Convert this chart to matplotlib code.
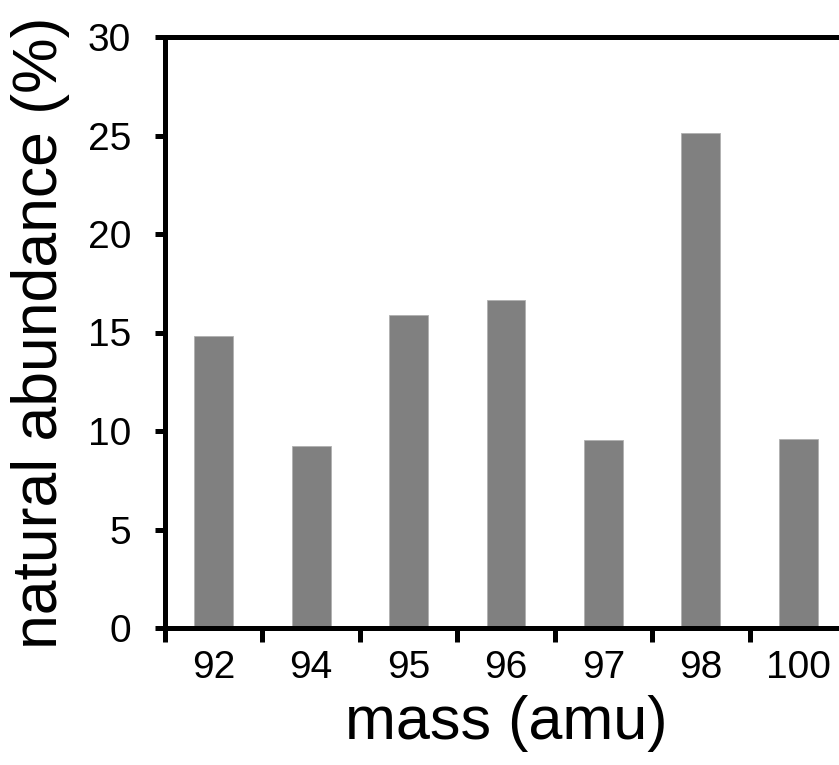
import matplotlib
matplotlib.use("Agg")
import matplotlib.pyplot as plt
import numpy as np

plt.rcParams["font.family"] = ["Liberation Sans", "DejaVu Sans"]

masses = ["92", "94", "95", "96", "97", "98", "100"]
abundance = [14.8, 9.25, 15.9, 16.65, 9.55, 25.15, 9.6]
y_ticks = [0, 5, 10, 15, 20, 25, 30]

W, H = 839, 765
fig = plt.figure(figsize=(W / 100, H / 100), dpi=100)
# axes runs a little past the right edge of the picture, as in the original
ax = fig.add_axes([165 / W, (H - 628) / H, (847 - 165) / W, (628 - 37) / H])

x = np.arange(len(masses)) + 0.5
ax.bar(x, abundance, width=0.4, color="#808080", edgecolor="#b0b0b0", linewidth=0.6, zorder=2)

ax.set_xlim(0, len(masses))
ax.set_ylim(0, 30)
ax.set_yticks(y_ticks)
ax.set_yticklabels([str(t) for t in y_ticks])

# boundary ticks (unlabelled) and centred labels
ax.set_xticks(np.arange(len(masses) + 1))
ax.set_xticklabels([])
ax.set_xticks(x, minor=True)
ax.set_xticklabels(masses, minor=True)
ax.tick_params(axis="x", which="major", direction="out", length=10, width=3.6)
ax.tick_params(axis="x", which="minor", length=0, pad=16, labelsize=28)
ax.tick_params(axis="y", direction="out", length=7.5, width=3.6, pad=17, labelsize=28)

for side in ["left", "bottom", "top"]:
    ax.spines[side].set_linewidth(3.6)
ax.spines["right"].set_visible(False)

ax.set_xlabel("mass (amu)", fontsize=44, labelpad=6)
ax.set_ylabel("natural abundance (%)", fontsize=45, labelpad=13)

fig.savefig("out.png", dpi=100)
